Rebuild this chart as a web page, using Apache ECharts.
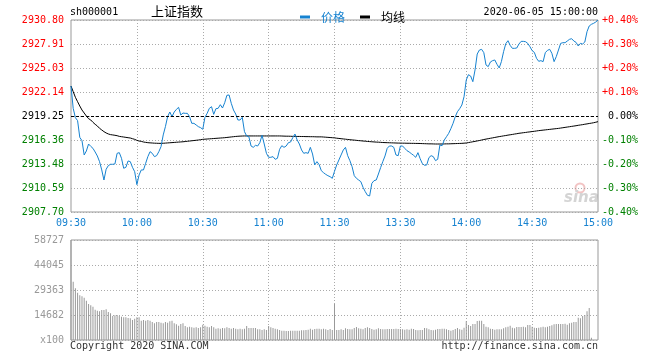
<!DOCTYPE html>
<html><head><meta charset="utf-8">
<script src="https://cdn.jsdelivr.net/npm/echarts@6/dist/echarts.min.js"></script>
<style>html,body{margin:0;padding:0;background:#fff}#c{width:660px;height:360px}</style>
</head><body><div id="c"></div>
<script>
const stockCode = 'sh000001';
const stockName = '上证指数';
const dateTime = '2020-06-05 15:00:00';
const preClose = 2919.25;
const priceTicks = ['2907.70','2910.59','2913.48','2916.36','2919.25','2922.14','2925.03','2927.91','2930.80'];
const pctTicks = ['-0.40%','-0.30%','-0.20%','-0.10%','0.00%','+0.10%','+0.20%','+0.30%','+0.40%'];
const volTicks = ['x100','14682','29363','44045','58727'];
const xLabels = ['09:30','10:00','10:30','11:00','11:30','13:30','14:00','14:30','15:00'];
const copyrightText = 'Copyright 2020 SINA.COM';
const urlText = 'http://finance.sina.com.cn';

// minute times: 09:30..11:30, 13:01..15:00
const times = [];
(function(){
  function push(h, m){ times.push((h<10?'0':'')+h+':'+(m<10?'0':'')+m); }
  for (let t = 9*60+30; t <= 11*60+30; t++) push(Math.floor(t/60), t%60);
  for (let t = 13*60+1; t <= 15*60; t++) push(Math.floor(t/60), t%60);
})();

const price = [
2922.86,2920.17,2919.05,2918.69,2916.68,2916.28,2914.56,2915.04,2915.88,2915.60,
2915.36,2914.92,2914.44,2913.76,2912.76,2911.55,2912.84,2913.28,2913.44,2913.44,
2913.48,2914.76,2914.84,2914.16,2912.96,2913.08,2913.84,2913.76,2913.08,2912.55,
2910.99,2912.15,2912.76,2912.76,2913.56,2914.36,2914.96,2914.76,2914.36,2914.48,
2914.96,2915.56,2916.97,2917.97,2919.17,2919.73,2919.17,2919.73,2920.05,2920.29,
2919.37,2919.61,2919.57,2919.57,2919.17,2918.37,2918.37,2918.17,2917.97,2917.85,
2917.65,2919.09,2919.57,2920.17,2920.37,2919.45,2920.13,2920.17,2920.61,2920.21,
2920.85,2921.74,2921.78,2920.77,2919.97,2919.49,2918.77,2918.77,2919.09,2917.37,
2916.84,2916.76,2915.64,2915.48,2915.72,2915.64,2916.04,2916.93,2915.88,2914.76,
2914.28,2914.28,2914.36,2914.04,2914.16,2915.24,2915.68,2915.48,2915.64,2916.04,
2916.12,2916.64,2917.08,2916.36,2915.88,2915.16,2914.76,2914.84,2914.76,2915.48,
2914.68,2913.36,2913.76,2913.40,2912.67,2912.43,2912.23,2912.07,2911.95,2911.75,
2912.60,2913.36,2913.96,2914.56,2915.16,2915.48,2914.48,2913.88,2913.16,2912.07,
2911.75,2911.55,2911.35,2910.67,2910.15,2909.71,2909.63,2911.15,2911.47,2911.55,
2912.27,2913.04,2913.76,2914.44,2915.36,2915.64,2915.64,2915.48,2914.56,2914.48,
2915.64,2915.64,2915.36,2915.08,2914.92,2914.72,2914.52,2914.28,2914.84,2914.12,
2913.52,2913.32,2913.36,2914.24,2914.48,2914.36,2913.88,2914.04,2915.76,2915.68,
2916.36,2916.76,2917.16,2917.73,2918.37,2919.17,2919.77,2920.13,2920.57,2921.58,
2923.58,2924.22,2924.06,2923.38,2924.79,2926.71,2927.19,2927.27,2926.87,2925.39,
2925.19,2925.75,2925.91,2925.99,2925.47,2925.03,2925.79,2926.99,2927.95,2928.31,
2927.75,2927.39,2927.39,2927.43,2927.91,2928.23,2928.23,2928.19,2927.99,2927.59,
2927.11,2926.91,2926.19,2925.83,2925.91,2925.79,2926.87,2927.15,2927.27,2926.79,
2925.79,2926.39,2927.19,2927.99,2928.07,2928.07,2928.27,2928.47,2928.55,2928.27,
2928.11,2927.67,2927.99,2927.91,2928.15,2929.40,2930.08,2930.28,2930.40,2930.56,
2930.80
];

const avg = [
2922.86,2922.18,2921.50,2920.97,2920.45,2919.97,2919.61,2919.25,2918.93,2918.77,
2918.49,2918.25,2918.05,2917.77,2917.57,2917.37,2917.21,2917.09,2917.01,2916.97,
2916.93,2916.88,2916.80,2916.76,2916.72,2916.68,2916.64,2916.60,2916.52,2916.44,
2916.32,2916.24,2916.20,2916.12,2916.08,2916.04,2916.02,2916.00,2915.98,2915.97,
2915.96,2915.96,2915.97,2915.99,2916.01,2916.03,2916.05,2916.07,2916.09,2916.11,
2916.13,2916.15,2916.18,2916.21,2916.24,2916.27,2916.30,2916.33,2916.36,2916.40,
2916.44,2916.46,2916.48,2916.50,2916.52,2916.54,2916.56,2916.58,2916.60,2916.62,
2916.64,2916.67,2916.70,2916.73,2916.76,2916.79,2916.81,2916.83,2916.84,2916.85,
2916.85,2916.85,2916.85,2916.85,2916.85,2916.85,2916.85,2916.85,2916.85,2916.85,
2916.85,2916.85,2916.85,2916.85,2916.85,2916.85,2916.84,2916.83,2916.82,2916.82,
2916.81,2916.80,2916.80,2916.79,2916.79,2916.78,2916.78,2916.77,2916.77,2916.76,
2916.76,2916.75,2916.74,2916.74,2916.74,2916.72,2916.70,2916.68,2916.66,2916.64,
2916.62,2916.58,2916.55,2916.52,2916.49,2916.46,2916.43,2916.40,2916.37,2916.35,
2916.32,2916.29,2916.27,2916.24,2916.22,2916.19,2916.17,2916.15,2916.13,2916.11,
2916.10,2916.08,2916.06,2916.05,2916.04,2916.03,2916.02,2916.01,2916.00,2915.99,
2915.99,2915.98,2915.98,2915.97,2915.97,2915.96,2915.96,2915.95,2915.95,2915.94,
2915.93,2915.92,2915.91,2915.90,2915.90,2915.89,2915.88,2915.88,2915.88,2915.88,
2915.89,2915.90,2915.90,2915.91,2915.92,2915.93,2915.94,2915.95,2915.96,2915.98,
2916.00,2916.05,2916.10,2916.15,2916.20,2916.25,2916.30,2916.36,2916.42,2916.47,
2916.52,2916.57,2916.62,2916.67,2916.72,2916.77,2916.81,2916.86,2916.90,2916.95,
2916.99,2917.03,2917.08,2917.12,2917.17,2917.20,2917.24,2917.27,2917.31,2917.34,
2917.38,2917.41,2917.45,2917.49,2917.52,2917.55,2917.58,2917.61,2917.64,2917.67,
2917.70,2917.73,2917.76,2917.80,2917.84,2917.88,2917.92,2917.96,2918.00,2918.04,
2918.08,2918.13,2918.17,2918.21,2918.26,2918.30,2918.35,2918.39,2918.44,2918.50,
2918.57
];

const volume = [
58727,34258,30343,27798,26232,25645,24862,23100,21142,20359,
19576,17814,17227,16835,17618,17618,18010,16444,15661,14095,
14486,14682,14095,13703,13312,13312,12920,12724,11746,12529,
13312,13312,11354,11746,11354,11746,11354,10571,9788,10571,
10571,10180,9788,10571,10180,10963,11354,9788,9201,8418,
9396,9788,8222,7439,7830,7439,7243,7439,7047,7439,
9005,8418,7830,7439,8222,7439,6656,6852,6656,7047,
6852,7439,7047,6656,7047,6656,6264,6656,6264,6656,
8222,7047,7047,7047,7047,6264,6264,5873,6264,5873,
8222,7439,7047,6656,6264,5873,5481,5481,5286,5286,
5481,5481,5481,5481,5481,5677,5677,5873,6068,6656,
6068,6460,6656,6656,6264,6656,6264,5873,6460,5873,
21142,5873,5873,6264,5873,6852,6460,6264,6264,7047,
7635,6852,6656,6264,7047,7439,7047,6460,6068,6264,
6852,6460,6264,6264,6460,6460,6460,6460,6656,6460,
6460,6264,6068,6264,6068,6656,6460,5873,5677,5873,
5873,7047,6852,6264,5873,5677,6068,6460,6460,6656,
6656,6264,5873,5481,5873,6460,7047,6264,6068,7243,
10963,8809,8222,9396,9396,11158,11354,11354,9396,7830,
7439,6656,6460,6068,6264,6264,6264,6852,7439,7830,
8418,7243,6852,7635,7635,7635,7830,7439,8809,8809,
7830,7243,7047,7243,7439,7830,7439,7830,8222,8613,
9201,9396,9396,9396,9396,9592,9005,9788,10180,10571,
10571,13116,12724,14095,14682,16835,18793,1370,0,0,
0
];

const BLUE = '#1682d0';
const RED = '#ff0000';
const GREEN = '#008000';
const GRIDC = '#aaaaaa';
const MONO = '"DejaVu Sans Mono", "Liberation Mono", monospace';

const priceTickVals = priceTicks.map(Number);
const volTickVals = [0, 14682, 29363, 44045, 58727];
function nearestIdx(arr, v){ let b=0, d=Infinity; arr.forEach((a,i)=>{const e=Math.abs(a-v); if(e<d){d=e;b=i;}}); return b; }
function sideColor(v){ v = parseFloat(v); return Math.abs(v-preClose) < 0.005 ? '#000' : (v > preClose ? RED : GREEN); }

const chart = echarts.init(document.getElementById('c'), null, {renderer:'canvas'});
chart.setOption({
  animation: false,
  backgroundColor: '#fff',
  grid: [
    {left:71, top:20, width:527, height:192, show:true, borderColor:'#999', borderWidth:1, backgroundColor:'transparent'},
    {left:71, top:240, width:527, height:100, show:true, borderColor:'#999', borderWidth:1, backgroundColor:'transparent'}
  ],
  legend: {
    left: 295, top: 6, icon: 'rect', itemWidth: 10, itemHeight: 3, itemGap: 15,
    selectedMode: false,
    textStyle: {fontSize: 12, fontFamily: '"Noto Sans CJK SC", sans-serif', padding: [0,0,0,6]},
    data: [
      {name:'价格', textStyle:{color: BLUE}},
      {name:'均线', textStyle:{color: '#000'}}
    ]
  },
  xAxis: [
    {type:'category', gridIndex:0, data: times, boundaryGap:false,
     axisLine:{show:false}, axisTick:{show:false},
     axisLabel:{interval:(i)=> i%30===0, formatter:(v,i)=> xLabels[Math.round(i/30)] || v,
       color: BLUE, fontFamily: MONO, fontSize: 10, margin: 6, showMinLabel:true, showMaxLabel:true},
     splitLine:{show:true, interval:(i)=> i%30===0 && i>0 && i<240, lineStyle:{color:GRIDC, type:[1,2], width:1}}
    },
    {type:'category', gridIndex:1, data: times, boundaryGap:false,
     axisLine:{show:false}, axisTick:{show:false}, axisLabel:{show:false},
     splitLine:{show:true, interval:(i)=> i%30===0 && i>0 && i<240, lineStyle:{color:GRIDC, type:[1,2], width:1}}
    }
  ],
  yAxis: [
    {type:'value', gridIndex:0, min: priceTickVals[0], max: priceTickVals[8],
     axisLine:{show:false},
     axisTick:{show:false, customValues: priceTickVals},
     axisLabel:{customValues: priceTickVals, formatter:(v)=> priceTicks[nearestIdx(priceTickVals, v)],
       color:(v)=> sideColor(v), fontFamily: MONO, fontSize: 10, margin: 7},
     splitLine:{show:true, lineStyle:{color:GRIDC, type:[1,2], width:1}}
    },
    {type:'value', gridIndex:0, position:'right', min: priceTickVals[0], max: priceTickVals[8],
     axisLine:{show:false},
     axisTick:{show:false, customValues: priceTickVals},
     axisLabel:{customValues: priceTickVals, formatter:(v)=> pctTicks[nearestIdx(priceTickVals, v)],
       color:(v)=> sideColor(v), fontFamily: MONO, fontSize: 10, margin: 40, align:'right'},
     splitLine:{show:false}
    },
    {type:'value', gridIndex:1, min: 0, max: 58727,
     axisLine:{show:false},
     axisTick:{show:false, customValues: volTickVals},
     axisLabel:{customValues: volTickVals, formatter:(v)=> volTicks[nearestIdx(volTickVals, v)],
       color:'#999', fontFamily: MONO, fontSize: 10, margin: 7},
     splitLine:{show:true, lineStyle:{color:GRIDC, type:[1,2], width:1}}
    }
  ],
  series: [
    {name:'价格', type:'line', xAxisIndex:0, yAxisIndex:0, data: price, showSymbol:false, symbol:'none',
     color: BLUE, lineStyle:{color: BLUE, width:1}, z: 3,
     markLine:{silent:true, symbol:['none','none'], label:{show:false},
       lineStyle:{color:'#000', type:[3,2], width:1}, data:[{yAxis: preClose}]}
    },
    {name:'均线', type:'line', xAxisIndex:0, yAxisIndex:0, data: avg, showSymbol:false, symbol:'none',
     color:'#000', lineStyle:{color:'#000', width:1}, z: 2},
    {name:'成交量', type:'bar', xAxisIndex:1, yAxisIndex:2, data: volume, barWidth:1,
     itemStyle:{color:'#999'}}
  ],
  graphic: [
    {type:'text', left:70, top:7, style:{text: stockCode, font:'10px ' + MONO, fill:'#000'}},
    {type:'text', left:151, top:5, style:{text: stockName, font:'13px "Noto Sans CJK SC", sans-serif', fill:'#000'}},
    {type:'text', right:62, top:7, style:{text: dateTime, font:'10px ' + MONO, fill:'#000'}},
    {type:'text', left:70, top:341, style:{text: copyrightText, font:'10px ' + MONO, fill:'#333'}},
    {type:'text', right:62, top:341, style:{text: urlText, font:'10px ' + MONO, fill:'#333'}},
    {type:'circle', shape:{cx:580, cy:188, r:4.5}, style:{fill:'none', stroke:'#f2c4c4', lineWidth:2}, z:-1},
    {type:'text', left:564, top:191, style:{text:'sina', font:'italic bold 15px "DejaVu Sans", sans-serif', fill:'#d4d4d4'}, z:-1}
  ]
});
</script>
</body></html>
